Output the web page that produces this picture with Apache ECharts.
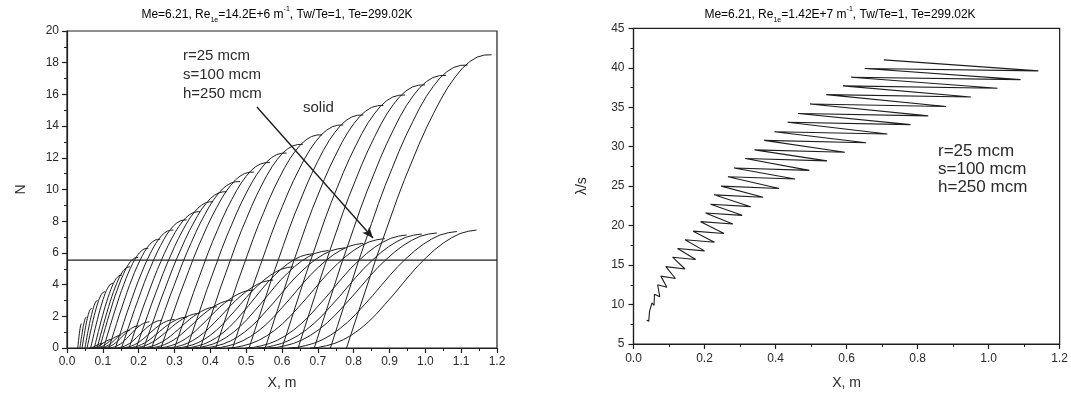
<!DOCTYPE html>
<html><head><meta charset="utf-8">
<script src="https://cdn.jsdelivr.net/npm/echarts@6.0.0/dist/echarts.min.js"></script>
<style>html,body{margin:0;padding:0;background:#fff}#c{width:1071px;height:398px}</style>
</head><body><div id="c"></div>
<script>
// ---------- LEFT PANEL DATA (X, m  vs  N) ----------
// tall family: start x, peak x, peak N
const tallStartX = [0.030,0.036,0.042,0.050,0.056,0.066,0.076,0.084,0.091,0.102,0.117,0.135,0.152,0.173,0.193,0.214,0.236,0.262,0.300,0.335,0.372,0.415,0.462,0.508,0.553,0.600,0.645,0.690,0.735,0.780];
const tallPeakX  = [0.041,0.055,0.069,0.087,0.106,0.129,0.153,0.176,0.199,0.227,0.260,0.297,0.334,0.371,0.408,0.446,0.483,0.522,0.566,0.613,0.658,0.712,0.771,0.827,0.883,0.943,0.999,1.058,1.118,1.185];
const tallPeakN  = [1.56,1.97,2.50,3.03,3.55,4.08,4.60,5.13,5.72,6.29,6.86,7.44,8.08,8.60,9.23,9.86,10.5,11.1,11.7,12.3,12.85,13.45,14.07,14.7,15.3,15.96,16.6,17.2,17.85,18.5];
// normalized profiles (fraction of width -> fraction of height)
const profileT    = [0,0.05,0.1,0.15,0.2,0.25,0.3,0.35,0.4,0.45,0.5,0.55,0.6,0.65,0.7,0.75,0.8,0.85,0.9,0.95,1.0];
const tallProfile = [0,0.075,0.15,0.225,0.30,0.37,0.44,0.51,0.575,0.635,0.695,0.75,0.80,0.848,0.89,0.925,0.955,0.977,0.992,0.999,1.0];
// lower (S-shaped) family: start x, top x, top N
const lowStartX = [0.060,0.070,0.080,0.090,0.100,0.115,0.135,0.150,0.165,0.180,0.203,0.224,0.250,0.276,0.302,0.327,0.350,0.376,0.407,0.447,0.498,0.530,0.562,0.618,0.678];
const lowTopX   = [0.100,0.125,0.150,0.175,0.200,0.230,0.265,0.300,0.335,0.370,0.418,0.464,0.520,0.576,0.632,0.687,0.730,0.776,0.827,0.887,0.948,0.990,1.032,1.088,1.143];
const lowTopN   = [0.30,0.55,0.80,1.10,1.40,1.65,1.75,1.80,1.95,2.19,2.60,3.03,3.66,4.29,5.13,5.95,6.15,6.32,6.60,6.90,7.13,7.19,7.26,7.35,7.44];
const lowProfile= [0,0.005,0.02,0.04,0.07,0.11,0.16,0.22,0.29,0.37,0.45,0.535,0.62,0.70,0.77,0.835,0.89,0.935,0.97,0.99,1.0];
const refLineN = 5.55;
const arrowFrom = [0.53, 15.2];
const arrowTo   = [0.854, 6.94];

// ---------- RIGHT PANEL DATA (X, m  vs  lambda/s) ----------
const zigLeftX  = [0.037,0.045,0.052,0.059,0.068,0.077,0.091,0.110,0.124,0.145,0.168,0.189,0.203,0.217,0.227,0.247,0.266,0.283,0.315,0.341,0.368,0.397,0.434,0.464,0.497,0.543,0.590,0.613,0.651,0.705];
const zigLeftV  = [8.0,9.1,10.2,11.3,12.5,13.6,14.8,16.0,17.1,18.2,19.3,20.5,21.6,22.7,23.9,25.0,26.2,27.3,28.5,29.6,30.8,31.9,33.1,34.2,35.4,36.6,37.7,38.8,39.9,41.0];
const zigRightX = [0.043,0.050,0.058,0.074,0.094,0.118,0.145,0.175,0.200,0.228,0.255,0.280,0.306,0.330,0.365,0.410,0.455,0.495,0.545,0.595,0.655,0.715,0.780,0.830,0.880,0.950,1.025,1.090,1.140];
const zigRightV = [7.9,8.9,9.9,11.0,12.2,13.3,14.5,15.7,16.8,17.9,19.0,20.2,21.3,22.4,23.6,24.7,25.9,27.0,28.2,29.3,30.5,31.6,32.8,33.9,35.1,36.3,37.4,38.5,39.6];

const FONT = "'Liberation Sans', Arial, sans-serif";
const INK = '#1e1e1e';

const series = [];
const base = {type:'line', symbol:'none', showSymbol:false, silent:true, animation:false,
  smooth:false, lineStyle:{color:INK, width:1}};
for (let i=0;i<tallStartX.length;i++){
  const w = tallPeakX[i]-tallStartX[i];
  series.push(Object.assign({}, base, {xAxisIndex:0, yAxisIndex:0,
    data: profileT.map((t,j)=>[tallStartX[i]+t*w, tallPeakN[i]*tallProfile[j]])}));
}
for (let i=0;i<lowStartX.length;i++){
  const w = lowTopX[i]-lowStartX[i];
  series.push(Object.assign({}, base, {xAxisIndex:0, yAxisIndex:0,
    data: profileT.map((t,j)=>[lowStartX[i]+t*w, lowTopN[i]*lowProfile[j]])}));
}
series.push({type:'line', symbol:'none', silent:true, animation:false, xAxisIndex:0, yAxisIndex:0,
  lineStyle:{color:INK, width:1.2}, data:[[0,refLineN],[1.2,refLineN]],
  markLine:{silent:true, animation:false, symbol:['none','arrow'], symbolSize:[7,11], label:{show:false},
    lineStyle:{color:INK, width:1.4, type:'solid'},
    data:[[{coord:arrowFrom},{coord:arrowTo}]]}});
const zig = [];
for (let k=0;k<zigLeftX.length;k++){
  zig.push([zigLeftX[k], zigLeftV[k]]);
  if (k<zigRightX.length) zig.push([zigRightX[k], zigRightV[k]]);
}
series.push({type:'line', symbol:'none', silent:true, animation:false, xAxisIndex:1, yAxisIndex:1,
  lineStyle:{color:INK, width:1.1}, data:zig});

const axisCommon = {
  axisLine:{show:true, onZero:false, lineStyle:{color:INK, width:1.2}},
  axisTick:{show:true, inside:false, length:5, lineStyle:{color:INK, width:1.2}},
  minorTick:{show:true, splitNumber:2, length:3, lineStyle:{color:INK, width:1}},
  splitLine:{show:false},
  axisLabel:{color:'#2a2a2a', fontSize:12, fontFamily:FONT},
  nameTextStyle:{color:'#2a2a2a', fontSize:14, fontFamily:FONT}
};
function ax(extra){ return Object.assign({}, JSON.parse(JSON.stringify(axisCommon)), extra); }

const titleRich = {
  n:{fontSize:12, fontFamily:FONT, color:'#2a2a2a', lineHeight:18},
  sub:{fontSize:7, fontFamily:FONT, color:'#2a2a2a', lineHeight:8, verticalAlign:'bottom'},
  sup:{fontSize:7, fontFamily:FONT, color:'#2a2a2a', lineHeight:8, verticalAlign:'top'}
};
function txt(x,y,s,size){
  return {type:'text', x:x, y:y, silent:true,
    style:{text:s, fill:'#2a2a2a', font:size+'px '+FONT, verticalAlign:'middle'}};
}

const option = {
  backgroundColor:'#ffffff',
  animation:false,
  grid:[
    {left:67, right:574, top:31, bottom:50, show:true, borderColor:INK, borderWidth:1.2},
    {left:633.5, right:7.5, top:28.3, bottom:54, show:true, borderColor:INK, borderWidth:1.2}
  ],
  xAxis:[
    ax({gridIndex:0, type:'value', min:0, max:1.2, interval:0.1, name:'X, m', nameLocation:'middle', nameGap:28,
      axisLabel:Object.assign({}, axisCommon.axisLabel, {margin:8, formatter:v=>v.toFixed(1)})}),
    ax({gridIndex:1, type:'value', min:0, max:1.2, interval:0.2, name:'X, m', nameLocation:'middle', nameGap:32,
      axisLabel:Object.assign({}, axisCommon.axisLabel, {margin:9, formatter:v=>v.toFixed(1)})})
  ],
  yAxis:[
    ax({gridIndex:0, type:'value', min:0, max:20, interval:2, name:'N', nameLocation:'middle', nameGap:39,
      axisLabel:Object.assign({}, axisCommon.axisLabel, {margin:8})}),
    ax({gridIndex:1, type:'value', min:5, max:45, interval:5, name:'λ/s', nameLocation:'middle', nameGap:44,
      axisLabel:Object.assign({}, axisCommon.axisLabel, {margin:9})})
  ],
  graphic:[
    {type:'text', x:277, y:15, silent:true, style:{text:'{n|Me=6.21, Re}{sub|1e}{n|=14.2E+6 m}{sup|-1}{n|, Tw/Te=1, Te=299.02K}', rich:titleRich, align:'center', verticalAlign:'middle'}},
    {type:'text', x:840, y:15, silent:true, style:{text:'{n|Me=6.21, Re}{sub|1e}{n|=1.42E+7 m}{sup|-1}{n|, Tw/Te=1, Te=299.02K}', rich:titleRich, align:'center', verticalAlign:'middle'}},
    txt(183,56,'r=25 mcm',15), txt(183,75,'s=100 mcm',15), txt(183,94,'h=250 mcm',15),
    txt(303,108,'solid',15),
    txt(938,151,'r=25 mcm',17), txt(938,169,'s=100 mcm',17), txt(938,187,'h=250 mcm',17)
  ],
  series: series
};
const chart = echarts.init(document.getElementById('c'), null, {renderer:'canvas'});
chart.setOption(option);
</script></body></html>
